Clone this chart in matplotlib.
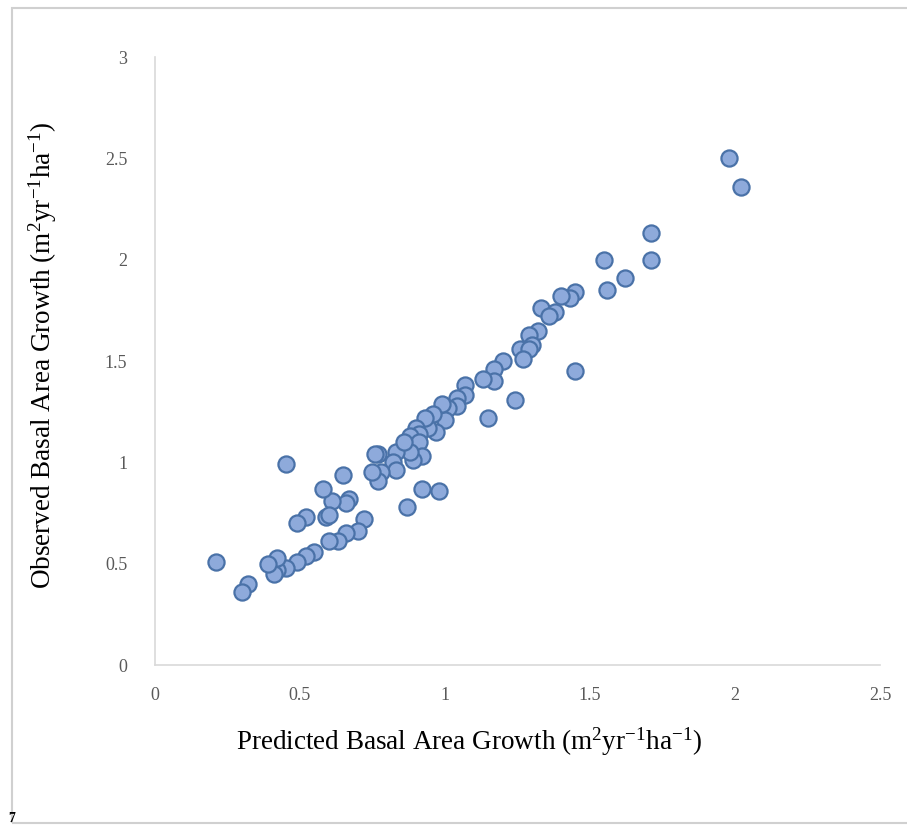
import matplotlib.pyplot as plt
from matplotlib.patches import Rectangle

plt.rcParams['font.family'] = ['Liberation Serif', 'DejaVu Serif']
plt.rcParams['mathtext.fontset'] = 'custom'
plt.rcParams['mathtext.rm'] = 'Liberation Serif'
plt.rcParams['mathtext.it'] = 'Liberation Serif:italic'

# predicted vs observed basal area growth (m2 yr-1 ha-1)
predicted = [1.98, 2.02, 1.71, 1.71, 1.55, 1.62, 1.56, 1.45, 1.43, 1.40,
             1.33, 1.38, 1.36, 1.32, 1.29, 1.30, 1.26, 1.29, 1.27, 1.20,
             1.17, 1.17, 1.13, 1.45, 1.24, 1.15, 1.07, 1.07, 1.04, 1.04,
             1.01, 1.00, 0.99, 0.96, 0.97, 0.94, 0.93, 0.90, 0.91, 0.88,
             0.91, 0.92, 0.89, 0.88, 0.83, 0.86, 0.82, 0.83, 0.78, 0.77,
             0.75, 0.77, 0.76, 0.65, 0.98, 0.92, 0.87, 0.72, 0.70, 0.66,
             0.63, 0.60, 0.67, 0.66, 0.61, 0.58, 0.59, 0.60, 0.52, 0.49,
             0.45, 0.55, 0.52, 0.49, 0.45, 0.42, 0.41, 0.42, 0.39, 0.32,
             0.30, 0.21]
observed = [2.50, 2.36, 2.13, 2.00, 2.00, 1.91, 1.85, 1.84, 1.81, 1.82,
            1.76, 1.74, 1.72, 1.65, 1.63, 1.58, 1.56, 1.56, 1.51, 1.50,
            1.46, 1.40, 1.41, 1.45, 1.31, 1.22, 1.38, 1.33, 1.32, 1.28,
            1.27, 1.21, 1.29, 1.24, 1.15, 1.17, 1.22, 1.17, 1.14, 1.13,
            1.10, 1.03, 1.01, 1.05, 1.05, 1.10, 1.00, 0.96, 0.95, 0.91,
            0.95, 1.04, 1.04, 0.94, 0.86, 0.87, 0.78, 0.72, 0.66, 0.65,
            0.61, 0.61, 0.82, 0.80, 0.81, 0.87, 0.73, 0.74, 0.73, 0.70,
            0.99, 0.56, 0.54, 0.51, 0.48, 0.47, 0.45, 0.53, 0.50, 0.40,
            0.36, 0.51]

x_ticks = [0, 0.5, 1, 1.5, 2, 2.5]
x_tick_labels = ['0', '0.5', '1', '1.5', '2', '2.5']
y_ticks = [0, 0.5, 1, 1.5, 2, 2.5, 3]
y_tick_labels = ['0', '0.5', '1', '1.5', '2', '2.5', '3']

fig = plt.figure(figsize=(9.07, 8.25), dpi=100)
fig.patches.append(Rectangle((12/907, 2/825), 1.0, 815/825, transform=fig.transFigure,
                             fill=False, edgecolor='#d0d0d0', lw=1.5))

ax = fig.add_axes([0.1709, 0.1939, 0.7993, 0.737])
ax.scatter(predicted, observed, s=135, color='#8eaadb', edgecolor='#4a72a8',
           linewidth=1.6, zorder=3, clip_on=False)

ax.set_xlim(0, 2.5)
ax.set_ylim(0, 3)
ax.set_xticks(x_ticks)
ax.set_xticklabels(x_tick_labels)
ax.set_yticks(y_ticks)
ax.set_yticklabels(y_tick_labels)
ax.tick_params(length=0, labelsize=13, labelcolor='#595959')
ax.tick_params(axis='x', pad=16)
ax.tick_params(axis='y', pad=20)

for s in ['top', 'right']:
    ax.spines[s].set_visible(False)
for s in ['left', 'bottom']:
    ax.spines[s].set_color('#d9d9d9')
    ax.spines[s].set_linewidth(1.2)

ax.set_xlabel(r'Predicted Basal Area Growth (m$^{2}$yr$^{-1}$ha$^{-1}$)', fontsize=19.5)
ax.set_ylabel(r'Observed Basal Area Growth (m$^{2}$yr$^{-1}$ha$^{-1}$)', fontsize=19.5)
ax.xaxis.set_label_coords((469 - 155) / 725, -(742 - 665) / 608, transform=ax.transAxes)
ax.yaxis.set_label_coords(-(155 - 43) / 725, (665 - 355) / 608, transform=ax.transAxes)
ax.xaxis.label.set_va('center')
ax.yaxis.label.set_va('center')

fig.text(8/907, 1 - 818/825, '7', fontsize=10, fontweight='bold', va='center', ha='left')

fig.savefig('out.png', dpi=100)
